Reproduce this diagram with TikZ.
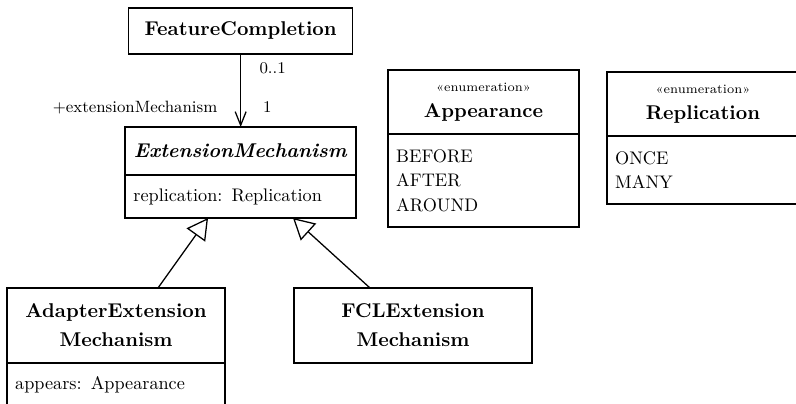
\documentclass[tikz,border=0pt]{standalone}
\usetikzlibrary{positioning,arrows.meta}
\newcommand\enumtag{{\mdseries\fontsize{7}{8}\selectfont «enumeration»}\\[-1.5pt]}
\begin{document}
\begin{tikzpicture}[scale=1.0,
  umlbox/.style={draw, line width=0.8pt, outer sep=0pt, inner xsep=4.5pt, inner ysep=0pt},
  clsname/.style={umlbox, align=center, font=\fontsize{10.95}{16}\selectfont\bfseries},
  attrs/.style={umlbox, align=left, font=\fontsize{10}{13.5}\selectfont},
  role/.style={font=\fontsize{9}{11}\selectfont, inner sep=0pt},
  assoc/.style={line width=0.7pt, -{Straight Barb[length=7.5pt, width=6pt]}},
  gen/.style={line width=0.7pt, -{Triangle[open, length=11.5pt, width=12.5pt, fill=white]}}]
  \useasboundingbox[fill=white] (0,0) rectangle (15.363,7.797);

  \node[clsname, minimum width=4.32cm, minimum height=0.89cm] (fc) at (4.645,7.199) {FeatureCompletion};
  \node[clsname, minimum width=4.46cm, minimum height=0.926cm] (ext) at (4.645,4.883) {\textit{ExtensionMechanism}};
  \node[attrs, text width=4.14cm, minimum height=0.83cm, below=0pt of ext] (extattr) {replication: Replication};

  \node[clsname, minimum width=3.686cm, minimum height=1.235cm] (app) at (9.332,5.829) {\enumtag Appearance};
  \node[attrs, text width=3.37cm, minimum height=1.795cm, below=0pt of app] (appattr) {BEFORE\\AFTER\\AROUND};
  \node[clsname, minimum width=3.706cm, minimum height=1.235cm] (rep) at (13.568,5.79) {\enumtag Replication};
  \node[attrs, text width=3.39cm, minimum height=1.312cm, below=0pt of rep] (repattr) {ONCE\\MANY};

  \node[clsname, minimum width=4.207cm, minimum height=1.4475cm] (adapt) at (2.239,1.515) {AdapterExtension\\Mechanism};
  \node[attrs, text width=3.89cm, minimum height=0.83cm, below=0pt of adapt] (adaptattr) {appears: Appearance};
  \node[clsname, minimum width=4.593cm, minimum height=1.4475cm] (fcl) at (7.971,1.515) {FCLExtension\\Mechanism};

  \draw[assoc] (fc) -- (ext)
    node[role, pos=0.19, right=10pt] (mult0) {0..1}
    node[role, pos=0.73, right=12pt] (mult1) {1}
    node[role, pos=0.73, left=12.5pt] (rolename) {+extensionMechanism};
  \draw[gen] ([xshift=0.81cm]adapt.north) -- ([xshift=-0.63cm]extattr.south);
  \draw[gen] ([xshift=-0.83cm]fcl.north) -- ([xshift=1.01cm]extattr.south);
\end{tikzpicture}
\end{document}
